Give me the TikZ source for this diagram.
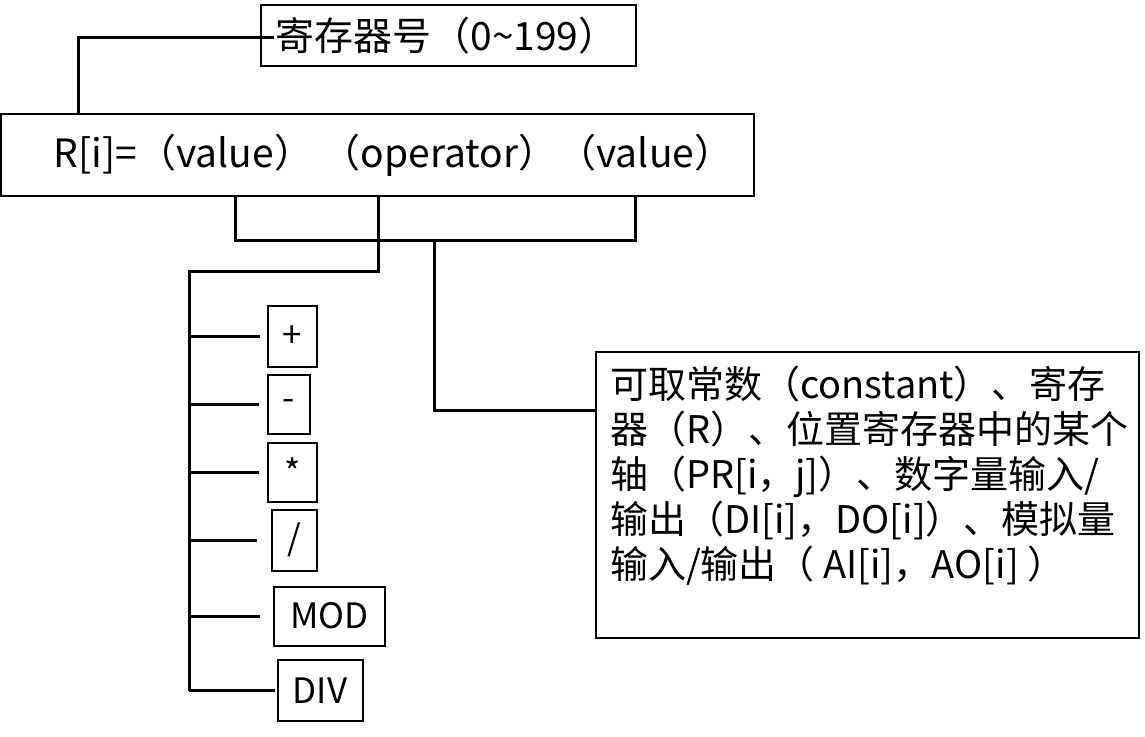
\documentclass[tikz,border=0pt]{standalone}
\usepackage{fontspec}
\setmainfont{Noto Sans CJK SC}
\usepackage{tikz}

\begin{document}
\begin{tikzpicture}[x=0.5pt,y=-0.5pt,
  box/.style={draw,line width=1pt,inner sep=0pt,font=\fontsize{19.5pt}{23pt}\selectfont},
  opbox/.style={box,font=\fontsize{17.5pt}{20pt}\selectfont},
  wire/.style={line width=1.5pt}]
  \useasboundingbox (0,0) rectangle (1145,736);
  \node[box,minimum width=187.5pt,minimum height=30.5pt] (reg) at (448.5,35.5) {\hspace{-2pt}寄存器号（0\textasciitilde199）};
  \node[box,minimum width=376.5pt,minimum height=41pt] (main) at (377.5,155) {\hspace{16pt}R[i]=（value） （operator）（value）};
  \node[box,anchor=north west,inner xsep=7pt,inner ysep=7pt,font=\fontsize{19pt}{22.5pt}\selectfont] (valbox) at (595,351)
    {\parbox[t][129pt][t]{257.5pt}{可取常数（constant）、寄存\\器（R）、位置寄存器中的某个\\轴（PR[i，j]）、数字量输入/\\输出（DI[i]，DO[i]）、模拟量\\输入/输出（ AI[i]，AO[i] ）}};
  \node[opbox,minimum width=24.5pt,minimum height=30.5pt] (plus) at (292.5,336.5) {+};
  \node[opbox,minimum width=21pt,minimum height=29.5pt] (minus) at (289,404.5) {-};
  \node[opbox,minimum width=24.5pt,minimum height=29.5pt] (times) at (292.5,472) {*};
  \node[opbox,minimum width=22.5pt,minimum height=30.5pt] (slash) at (294.5,540) {/};
  \node[opbox,minimum width=55.5pt,minimum height=29.5pt] (mod) at (329.5,616) {MOD};
  \node[opbox,minimum width=42.5pt,minimum height=30.5pt] (div) at (320,690.5) {DIV};
  \coordinate (rk) at (78,37);
  \coordinate (jl) at (235,240);
  \coordinate (jr) at (635,240);
  \coordinate (jm) at (434,240);
  \coordinate (vin) at (434,410);
  \coordinate (opc) at (378,271);
  \coordinate (bus) at (189,271);
  \draw[wire,shorten >=-7pt] (main.north -| rk) -- (rk) -- (rk -| reg.west);
  \draw[wire] (main.south -| jl) -- (jl) -- (jr) -- (main.south -| jr);
  \draw[wire] (jm) -- (vin) -- (vin -| valbox.west);
  \draw[wire] (main.south -| opc) -- (opc) -- (bus) -- (bus |- div.west);
  \foreach \n/\g in {plus/7,minus/8,times/8,slash/14,mod/13,div/2}
    \draw[wire,shorten >=\g*0.5pt] (bus |- \n.west) -- (\n.west);
\end{tikzpicture}
\end{document}
